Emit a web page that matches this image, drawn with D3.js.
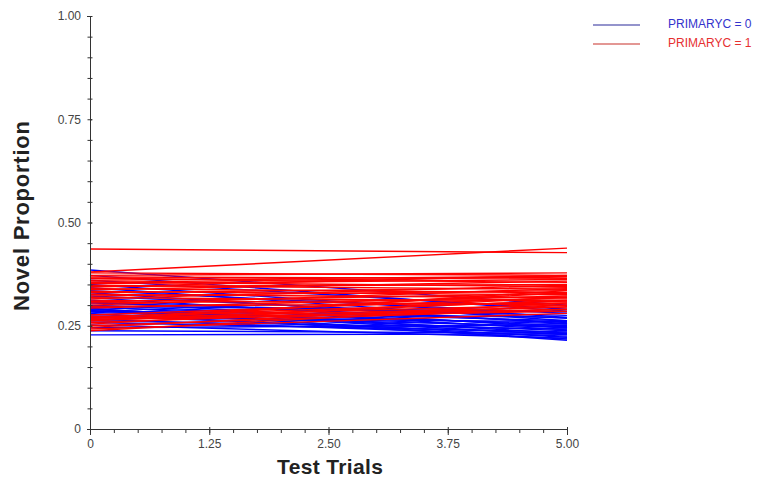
<!DOCTYPE html>
<html>
<head>
<meta charset="utf-8">
<script src="https://cdn.jsdelivr.net/npm/d3@7"></script>
<style>
  body { margin: 0; background: #fff; }
  text { font-family: "Liberation Sans", Arial, sans-serif; }
</style>
</head>
<body>
<div id="chart"></div>
<script>
let width = 770,
    height = 480,
    margin = ({ top: 16, right: 203, bottom: 51, left: 90 });

// fitted lines per subject: [value at trial 0, value at trial 5]
const blueLines = [
  [0.385, 0.300], [0.372, 0.285], [0.360, 0.290], [0.350, 0.270], [0.342, 0.262],
  [0.335, 0.280], [0.330, 0.255], [0.322, 0.268], [0.318, 0.245], [0.312, 0.258],
  [0.308, 0.240], [0.305, 0.275], [0.300, 0.250], [0.297, 0.232], [0.294, 0.262],
  [0.291, 0.228], [0.289, 0.245], [0.287, 0.222], [0.285, 0.255], [0.283, 0.238],
  [0.280, 0.218], [0.277, 0.248], [0.274, 0.230], [0.270, 0.260], [0.266, 0.225],
  [0.262, 0.242], [0.258, 0.235], [0.252, 0.220], [0.245, 0.252], [0.238, 0.232],
  [0.228, 0.230], [0.292, 0.215], [0.286, 0.270], [0.298, 0.284]
];
const redLines = [
  [0.436, 0.427], [0.380, 0.438],
  [0.378, 0.372], [0.372, 0.378], [0.368, 0.365], [0.365, 0.355], [0.360, 0.370],
  [0.356, 0.345], [0.352, 0.362], [0.348, 0.338], [0.345, 0.350], [0.340, 0.330],
  [0.337, 0.358], [0.333, 0.325], [0.330, 0.342], [0.326, 0.318], [0.322, 0.335],
  [0.318, 0.310], [0.315, 0.348], [0.312, 0.300], [0.308, 0.328], [0.305, 0.315],
  [0.300, 0.340], [0.297, 0.305], [0.293, 0.322], [0.268, 0.295], [0.262, 0.335],
  [0.271, 0.310], [0.265, 0.290], [0.276, 0.318], [0.272, 0.300], [0.268, 0.330],
  [0.265, 0.285], [0.262, 0.312], [0.258, 0.296], [0.254, 0.320], [0.250, 0.290],
  [0.246, 0.305], [0.242, 0.280], [0.238, 0.300], [0.355, 0.368], [0.344, 0.372]
];
const trials = [0, 5];
const xTicks = [0, 1.25, 2.5, 3.75, 5];
const xLabels = ["0", "1.25", "2.50", "3.75", "5.00"];
const yTicks = [0, 0.25, 0.5, 0.75, 1];
const yLabels = ["0", "0.25", "0.50", "0.75", "1.00"];
const groups = ["PRIMARYC = 0", "PRIMARYC = 1"];
const colors = ["#0000ff", "#ff0000"];

const svg = d3.select("#chart")
  .append("svg")
  .attr("width", width)
  .attr("height", height);

let x = d3.scaleLinear()
  .domain([0, 5])
  .range([margin.left, width - margin.right]);

let y = d3.scaleLinear()
  .domain([0, 1])
  .range([height - margin.bottom, margin.top]);

let line = d3.line()
  .x((d, i) => x(trials[i]))
  .y(d => y(d));

// lines, blue first then red on top
[blueLines, redLines].forEach((set, gi) => {
  svg.append("g")
    .selectAll("path")
    .data(set)
    .join("path")
    .attr("fill", "none")
    .attr("stroke", colors[gi])
    .attr("stroke-width", 1.4)
    .attr("d", line);
});

const axisColor = "#333";

// x axis
let xAxis = svg.append("g")
  .attr("transform", `translate(0,${y(0)})`)
  .call(d3.axisBottom(x).tickValues(d3.range(0, 5.01, 0.25)).tickSize(4).tickFormat(""));
xAxis.select(".domain").attr("stroke", axisColor);
xAxis.selectAll(".tick line").attr("stroke", axisColor);

let xMajor = svg.append("g")
  .attr("transform", `translate(0,${y(0)})`)
  .call(d3.axisBottom(x).tickValues(xTicks).tickSize(6).tickPadding(4)
    .tickFormat((d, i) => xLabels[i]));
xMajor.select(".domain").remove();
xMajor.selectAll(".tick line").attr("stroke", axisColor).attr("y1", -2);
xMajor.selectAll("text").attr("fill", "#444").style("font-size", "12px");

// y axis
let yAxis = svg.append("g")
  .attr("transform", `translate(${x(0)},0)`)
  .call(d3.axisLeft(y).tickValues(d3.range(0, 1.001, 0.05)).tickSize(3).tickFormat(""));
yAxis.select(".domain").attr("stroke", axisColor);
yAxis.selectAll(".tick line").attr("stroke", axisColor).attr("x2", 2.5).attr("x1", -2.5);

let yMajor = svg.append("g")
  .attr("transform", `translate(${x(0)},0)`)
  .call(d3.axisLeft(y).tickValues(yTicks).tickSize(6).tickPadding(3)
    .tickFormat((d, i) => yLabels[i]));
yMajor.select(".domain").remove();
yMajor.selectAll(".tick line").attr("stroke", axisColor).attr("x2", 2);
yMajor.selectAll("text").attr("fill", "#444").style("font-size", "12px");

// axis titles
svg.append("text")
  .attr("x", 330)
  .attr("y", 474)
  .attr("text-anchor", "middle")
  .style("font-size", "21px")
  .style("font-weight", "bold")
  .attr("fill", "#222")
  .attr("textLength", 106)
  .text("Test Trials");

svg.append("text")
  .attr("transform", `translate(29,216) rotate(-90)`)
  .attr("text-anchor", "middle")
  .style("font-size", "22px")
  .style("font-weight", "bold")
  .attr("fill", "#222")
  .attr("textLength", 190)
  .text("Novel Proportion");

// legend
let legend = svg.append("g");
groups.forEach((g, i) => {
  let ly = 25 + i * 19;
  legend.append("line")
    .attr("x1", 593).attr("x2", 640)
    .attr("y1", ly).attr("y2", ly)
    .attr("stroke", i === 0 ? "#2a2a99" : "#c8302a")
    .attr("stroke-width", 1.2);
  legend.append("text")
    .attr("x", 668)
    .attr("y", ly)
    .attr("dominant-baseline", "middle")
    .style("font-size", "12px")
    .attr("fill", i === 0 ? "#3333cc" : "#e63030")
    .text(g);
});
</script>
</body>
</html>
